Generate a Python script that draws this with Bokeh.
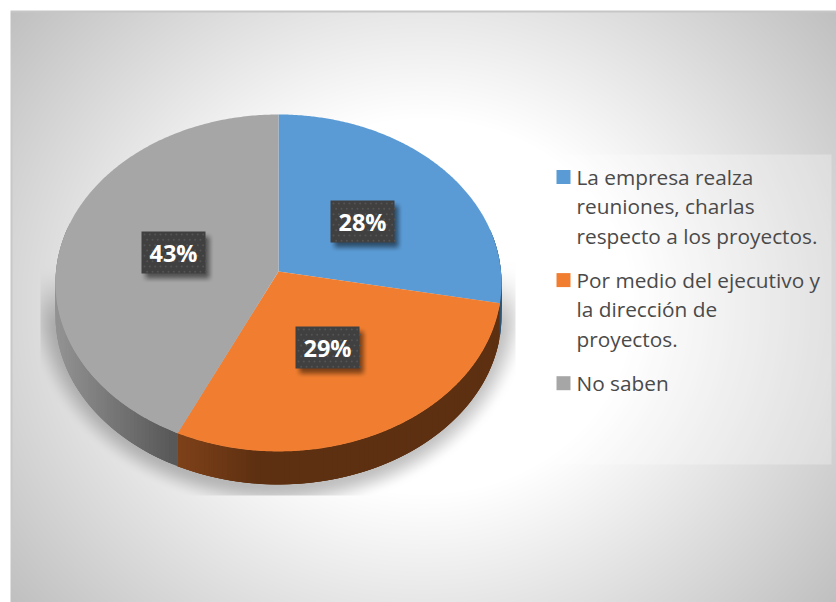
import numpy as np
from bokeh.core.properties import value
from bokeh.embed import file_html
from bokeh.models import Range1d
from bokeh.plotting import figure
from bokeh.resources import INLINE

# Survey shares, clockwise from twelve o'clock
shares = [28, 29, 43]
share_labels = ["28%", "29%", "43%"]
top_colors = ["#5B9BD5", "#F17E30", "#A6A6A6"]
legend_lines = [
    ["La empresa realza", "reuniones, charlas", "respecto a los proyectos."],
    ["Por medio del ejecutivo y", "la dirección de", "proyectos."],
    ["No saben"],
]

W, H = 836, 602
CX, CY, RX, RY, TILT, DEPTH = 278.0, 271.0, 222.5, 167.7, 0.068, 33.0
LABEL_RADIUS = 0.49
LABEL_TURN = np.radians(1.2)
BOX_W, BOX_H = 64, 42


def flip(y):
    return H - np.asarray(y, dtype=float)


def project(angle, radius=1.0):
    """Tilted disc: angle runs clockwise from the top, perspective swells the front."""
    u, v = radius * np.sin(angle), radius * np.cos(angle)
    k = 1 + TILT * v
    return CX + RX * u / k, CY - RY * v / k


def to_rgba(gray, alpha):
    g = np.clip(gray, 0, 255).astype(np.uint32)
    a = np.clip(alpha, 0, 255).astype(np.uint32)
    return (a << 24) | (g << 16) | (g << 8) | g


def smooth(t):
    t = np.clip(t, 0, 1)
    return t * t * (3 - 2 * t)


# Backdrop: radial fade towards grey corners, plus the soft shadow below the disc
xx, yy = np.meshgrid(np.arange(W) + 0.5, np.arange(H) + 0.5)
dist = np.hypot((xx - 423) / 380, (yy - 306) / 340) / 1.39
shade = 255 - 63 * np.clip((dist - 0.40) / 0.60, 0, 1)

outside = (np.hypot((xx - CX) / 222, (yy - 300) / 185) - 1) * 200
shadow = 0.24 * (1 - smooth(outside / 28)) * smooth((yy - 262) / 70)
shadow *= (xx > 40) & (xx < 515) & (yy < 495)
shade = shade * (1 - shadow)

shade[yy < 12] = 198
shade[xx < 12] = np.minimum(shade[xx < 12], 200)
mask = (xx < 10) | (yy < 10)
shade[mask] = 255
backdrop = to_rgba(shade, np.full(shade.shape, 255))

edges = np.concatenate([[0], np.cumsum(shares)]) / sum(shares) * 2 * np.pi
mids = (edges[:-1] + edges[1:]) / 2

p = figure(
    width=W, height=H, output_backend="svg", toolbar_location=None,
    x_range=Range1d(0, W), y_range=Range1d(0, H),
    min_border=0, outline_line_color=None, background_fill_color="white",
    border_fill_color="white",
)
p.axis.visible = False
p.grid.visible = False

p.image_rgba(image=[backdrop[::-1]], x=0, y=0, dw=W, dh=H)


def wall_color(slice_index, x):
    if slice_index == 0:
        return "#2E5574"
    if slice_index == 1:
        t = np.clip((x - 176) / 84, 0, 1)
        r, g, b = 128 - 34 * t, 67 - 19 * t, 26 - 8 * t
    else:
        t = np.clip((x - 60) / 116, 0, 1)
        r = g = b = 146 - 58 * t
    return f"#{int(r):02x}{int(g):02x}{int(b):02x}"


# Rim of the disc: overlapping quads, each with its own tone, painted in sweep order
quad_x, quad_y, quad_c = [], [], []
for i in range(len(shares)):
    steps = np.linspace(edges[i], edges[i + 1], max(3, int((edges[i + 1] - edges[i]) * 50)))
    step = steps[1] - steps[0]
    for a0 in steps[:-1]:
        if np.cos(a0 + step / 2) > 0.25:
            continue
        a1 = min(a0 + 3 * step, edges[i + 1])
        x0, y0 = project(a0)
        x1, y1 = project(a1)
        quad_x.append([x0, x1, x1, x0])
        quad_y.append(list(flip([y0, y1, y1 + DEPTH, y0 + DEPTH])))
        quad_c.append(wall_color(i, x0))
p.patches(quad_x, quad_y, fill_color=quad_c, line_color=None)

# Top face of the disc
for i, color in enumerate(top_colors):
    arc = np.linspace(edges[i], edges[i + 1], 240)
    ax, ay = project(arc)
    p.patch(np.r_[CX, ax], flip(np.r_[CY, ay]), fill_color=color, line_color=None)

label_x, label_y = project(mids + LABEL_TURN, LABEL_RADIUS)
label_x, label_y = np.round(label_x), np.round(label_y)

# Blurred drop shadows behind the percentage boxes
box_shadow = np.zeros((H, W))
for lx, ly in zip(label_x, label_y):
    ox, oy, blur = lx + 4, ly + 5, 5.0
    sx = smooth((xx - (ox - BOX_W / 2 - blur)) / (2 * blur)) * smooth(((ox + BOX_W / 2 + blur) - xx) / (2 * blur))
    sy = smooth((yy - (oy - BOX_H / 2 - blur)) / (2 * blur)) * smooth(((oy + BOX_H / 2 + blur) - yy) / (2 * blur))
    box_shadow = np.maximum(box_shadow, sx * sy)
overlay = to_rgba(np.zeros((H, W)), box_shadow * 0.5 * 255)
p.image_rgba(image=[overlay[::-1]], x=0, y=0, dw=W, dh=H)

p.rect(label_x, flip(label_y), width=BOX_W, height=BOX_H, fill_color="#404040", line_color=None)

# Dotted texture on the percentage boxes
dot_x, dot_y = [], []
for lx, ly in zip(label_x, label_y):
    for dx in np.arange(-BOX_W / 2 + 3, BOX_W / 2 - 1, 5.33):
        for row, dy in enumerate(np.arange(-BOX_H / 2 + 3, BOX_H / 2 - 1, 5.33)):
            dot_x.append(lx + dx + (2.66 if row % 2 else 0))
            dot_y.append(ly + dy)
p.scatter(dot_x, flip(dot_y), marker="circle", size=2.0, fill_color="#545454", line_color=None)

p.text(label_x, flip(label_y), text=share_labels, text_color="white",
       text_font=value("Open Sans"), text_font_style="bold", text_font_size="23.5px",
       text_align="center", text_baseline="middle")

# Legend panel with wrapped entries
p.quad(left=[544], right=[831], top=flip([154]), bottom=flip([464]),
       fill_color="white", fill_alpha=0.27, line_color=None)

LINE_STEP, GROUP_GAP, FIRST_LINE = 29.3, 15.2, 176.5
baseline = FIRST_LINE
for entry, color in zip(legend_lines, top_colors):
    p.rect([563], flip([baseline]), width=14, height=14, fill_color=color, line_color=None)
    ys = baseline + LINE_STEP * np.arange(len(entry))
    p.text([576] * len(entry), flip(ys), text=entry, text_color="#4A4A4A",
           text_font=value("Open Sans"), text_font_size="20.8px",
           text_align="left", text_baseline="middle")
    baseline = ys[-1] + LINE_STEP + GROUP_GAP

open("out.html", "w").write(file_html(p, INLINE))
